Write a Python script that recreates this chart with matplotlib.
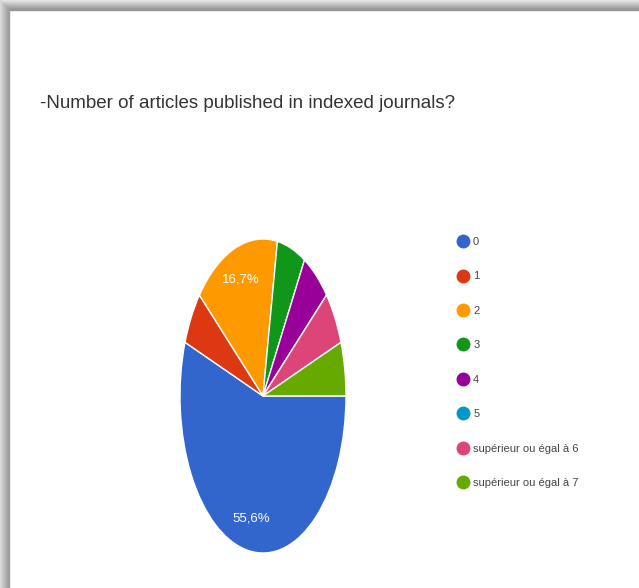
import matplotlib
matplotlib.use("Agg")
import matplotlib.pyplot as plt
from matplotlib.lines import Line2D
from matplotlib.patches import Rectangle

# Données
labels = ["0", "1", "2", "3", "4", "5",
          "supérieur ou égal à 6", "supérieur ou égal à 7"]
counts = [10, 1, 3, 1, 1, 0, 1, 1]
colors = ["#3366cc", "#dc3912", "#ff9900", "#109618",
          "#990099", "#0099c6", "#dd4477", "#66aa00"]
title = "-Number of articles published in indexed journals?"

plt.rcParams["font.family"] = ["Liberation Sans", "DejaVu Sans"]

W, H = 639, 588
fig = plt.figure(figsize=(W / 100, H / 100), dpi=100)
fig.patch.set_facecolor("white")

# Ombre de la capture (haut et gauche)
for i in range(10):
    g = 0.90 - 0.035 * i
    fig.patches.append(Rectangle((0, (H - i - 1) / H), 1, 1 / H,
                                 transform=fig.transFigure, color=(g, g, g), zorder=0))
for i in range(9):
    g = 0.86 - 0.03 * i
    fig.patches.append(Rectangle((i / W, 0), 1 / W, (H - i) / H,
                                 transform=fig.transFigure, color=(g, g, g), zorder=0))

# Camembert (ellipse étirée verticalement)
ax = fig.add_axes([180 / W, (H - 553) / H, 166 / W, 314 / H])


def fmt(p):
    return f"{p:.1f}%".replace(".", ",") if p >= 10 else ""


wedges, _, autotexts = ax.pie(
    counts, colors=colors, startangle=0, counterclock=False,
    autopct=fmt, pctdistance=0.79,
    wedgeprops=dict(edgecolor="white", linewidth=1),
    textprops=dict(color="white", fontsize=9.5),
)
ax.set_xlim(-1, 1)
ax.set_ylim(-1, 1)
ax.set_aspect("auto")
ax.axis("off")

fig.text(40 / W, 1 - 103 / H, title, fontsize=13.5, color="#333333",
         ha="left", va="center")

handles = [Line2D([], [], marker="o", linestyle="none", markersize=9,
                  markerfacecolor=c, markeredgecolor=c) for c in colors]
fig.legend(handles, labels, loc="upper left",
           bbox_to_anchor=(457 / W, 1 - 237 / H), frameon=False,
           fontsize=8, labelcolor="#444444", handlelength=1,
           handletextpad=0.45, labelspacing=2.2, borderpad=0,
           borderaxespad=0)

plt.savefig("out.png", dpi=100)
plt.close()
